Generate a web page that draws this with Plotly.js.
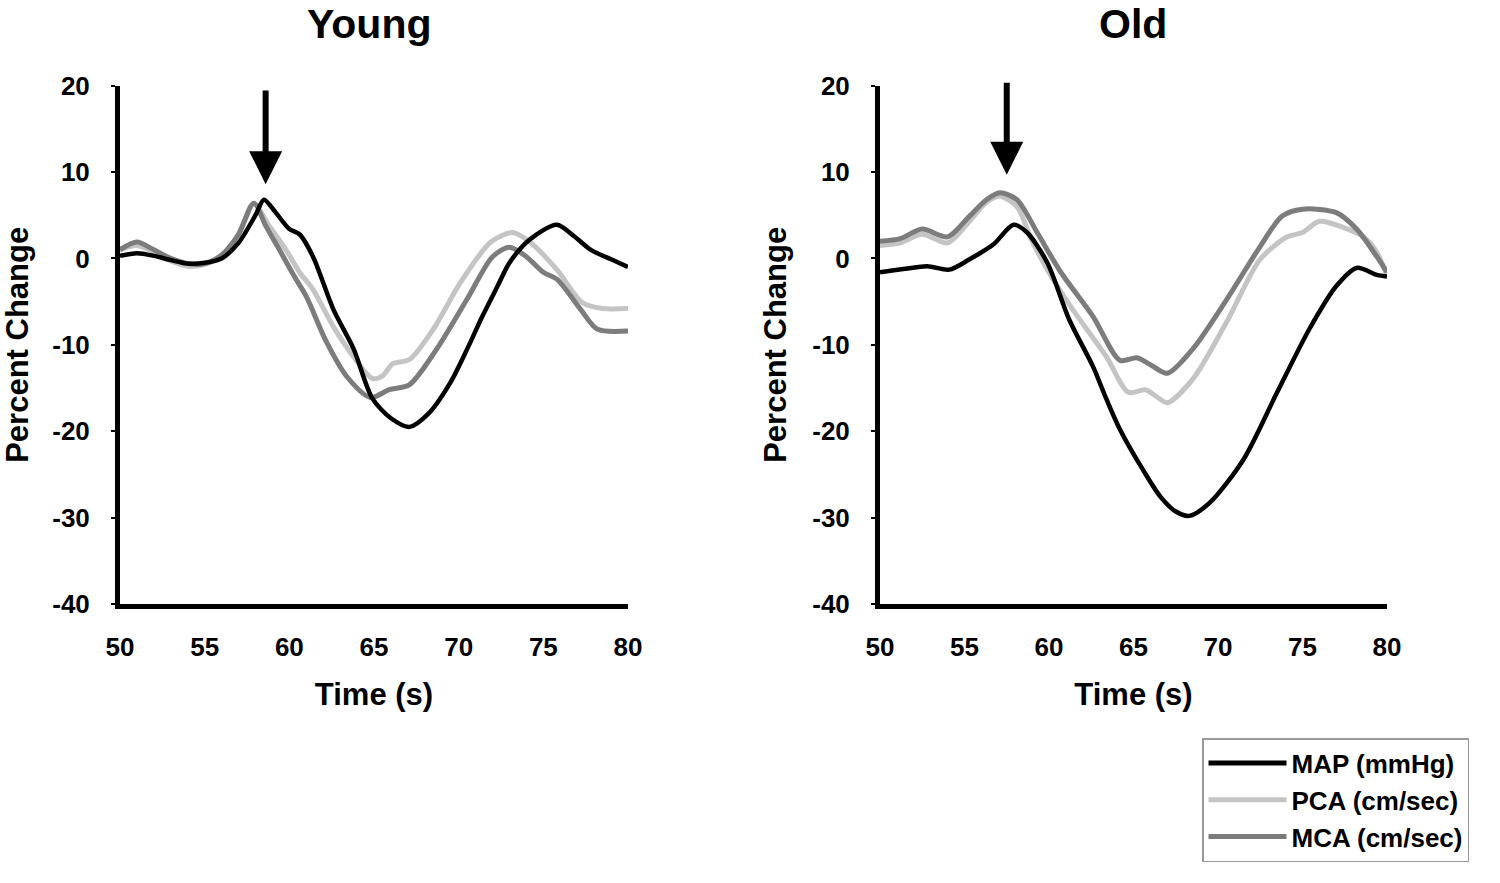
<!DOCTYPE html>
<html>
<head>
<meta charset="utf-8">
<script src="https://cdn.plot.ly/plotly-3.0.1.min.js"></script>
<style>
  html, body { margin: 0; padding: 0; background: #fff; }
  #chart { width: 1500px; height: 883px; }
</style>
</head>
<body>
<div id="chart"></div>
<script>
// Young group - percent change vs time (s)
var youngMapX = [50, 51, 52, 53, 54, 55, 56, 57, 58, 58.5, 59.2, 60, 60.6, 61.4, 62.6, 63.8, 64.9, 66, 67.1, 68.2, 69.5, 70.5, 71.4, 72.3, 73, 74.2, 75.8, 76.8, 77.8, 79, 80];
var youngMapY = [0.3, 0.6, 0.3, -0.2, -0.6, -0.5, 0, 1.8, 5, 6.8, 5.3, 3.4, 2.8, 0.2, -5.9, -10.5, -16.2, -18.5, -19.5, -18, -14.4, -10.5, -6.7, -3.2, -0.5, 2.2, 3.9, 2.6, 1.0, -0.1, -1.0];

var youngPcaX = [50, 51, 52, 53, 54, 55, 56, 57, 57.9, 58.8, 59.8, 60.6, 61.4, 62.6, 63.8, 64.9, 65.5, 66.1, 67.1, 68.5, 70.1, 71.9, 73.2, 74.2, 75.8, 77.3, 78.5, 80];
var youngPcaY = [1.0, 1.5, 0.7, -0.3, -0.9, -0.7, 0.3, 2.8, 6.3, 3.8, 1.0, -1.6, -3.6, -7.9, -11.4, -13.9, -13.6, -12.2, -11.7, -8.2, -2.8, 1.9, 3.0, 1.9, -1.3, -5.1, -5.8, -5.8];

var youngMcaX = [50, 51, 52, 53, 54, 55, 56, 57, 57.9, 58.6, 59.3, 60.3, 61.0, 62.2, 63.4, 64.8, 65.9, 67.1, 68.7, 70.5, 72.0, 73.0, 74.0, 75.0, 75.8, 77.2, 78.2, 80];
var youngMcaY = [1.0, 1.9, 1.0, 0, -0.6, -0.6, 0.4, 2.8, 6.4, 3.8, 1.4, -2.1, -4.4, -9.7, -13.7, -16.1, -15.2, -14.6, -10.5, -4.7, 0.2, 1.3, 0.2, -1.6, -2.4, -5.9, -8.2, -8.4];

// Old group
var oldMapX = [50, 51.5, 52.8, 54.1, 55.3, 56.7, 57.9, 58.7, 59.9, 61.2, 62.6, 63.4, 64.2, 65.6, 66.6, 67.5, 68.3, 69.5, 71.5, 73.5, 75.4, 77.0, 78.2, 79.4, 80];
var oldMapY = [-1.6, -1.2, -0.9, -1.3, -0.1, 1.6, 3.9, 3.0, -0.5, -7.1, -12.5, -16.3, -19.8, -24.6, -27.6, -29.3, -29.8, -28.3, -23.3, -15.5, -8.2, -3.2, -1.1, -1.9, -2.1];

var oldPcaX = [50, 51.2, 52.5, 54, 55.3, 56.3, 57.1, 58.1, 59.0, 59.9, 61.4, 63.4, 64.7, 65.7, 66.3, 67.0, 68.5, 70.5, 72.5, 74.1, 75.0, 76.0, 77.4, 78.6, 79.4, 80];
var oldPcaY = [1.5, 1.8, 2.8, 1.8, 4.3, 6.5, 7.2, 6.0, 2.0, -1.3, -5.9, -11.4, -15.5, -15.2, -15.9, -16.7, -14, -7.4, -0.1, 2.5, 3.0, 4.3, 3.6, 2.5, 0.7, -2.1];

var oldMcaX = [50, 51.2, 52.5, 54, 55.3, 56.3, 57.1, 58.1, 59.3, 60.7, 62.6, 64.2, 65.2, 66, 67.0, 68.5, 70.5, 72.5, 73.8, 75.0, 77.0, 78.2, 79.4, 80];
var oldMcaY = [2.0, 2.3, 3.4, 2.5, 4.9, 6.8, 7.6, 6.8, 3.0, -1.6, -6.7, -11.8, -11.5, -12.3, -13.3, -10.5, -4.8, 1.4, 4.9, 5.7, 5.3, 3.4, 0.2, -1.6];

var seriesNames = ["MAP (mmHg)", "PCA (cm/sec)", "MCA (cm/sec)"];
var seriesColors = ["#000000", "#c4c4c4", "#7c7c7c"];
var panelTitles = ["Young", "Old"];
var arrowX = [58.6, 57.5];

var xTicks = [50, 55, 60, 65, 70, 75, 80];
var yTicks = [-40, -30, -20, -10, 0, 10, 20];
var yTickText = ["-40", "-30", "-20", "-10", "0", "10", "20"];

var fnt = "Liberation Sans, Arial, sans-serif";

function line(x, y, i, xa, ya, show) {
  return {
    x: x, y: y, xaxis: xa, yaxis: ya,
    type: "scatter", mode: "lines",
    name: seriesNames[i], showlegend: show,
    line: {color: seriesColors[i], width: i == 0 ? 4.5 : 5, shape: "spline", smoothing: 0.8}
  };
}

// draw MAP last so it sits on top like the original
var data = [
  line(youngPcaX, youngPcaY, 1, "x", "y", false),
  line(youngMcaX, youngMcaY, 2, "x", "y", false),
  line(youngMapX, youngMapY, 0, "x", "y", false),
  line(oldPcaX, oldPcaY, 1, "x2", "y2", false),
  line(oldMcaX, oldMcaY, 2, "x2", "y2", false),
  line(oldMapX, oldMapY, 0, "x2", "y2", false),
  // legend entries in the original order
  {x: [null], y: [null], xaxis: "x2", yaxis: "y2", type: "scatter", mode: "lines", name: seriesNames[0], line: {color: seriesColors[0], width: 5}},
  {x: [null], y: [null], xaxis: "x2", yaxis: "y2", type: "scatter", mode: "lines", name: seriesNames[1], line: {color: seriesColors[1], width: 5}},
  {x: [null], y: [null], xaxis: "x2", yaxis: "y2", type: "scatter", mode: "lines", name: seriesNames[2], line: {color: seriesColors[2], width: 5}}
];

function xax(dom) {
  return {
    domain: dom, range: [50, 80], tickvals: xTicks,
    showgrid: false, zeroline: false, showline: true, linecolor: "#000", linewidth: 5,
    ticks: "", ticklabelstandoff: 16,
    tickfont: {family: fnt, size: 26, color: "#000", weight: "bold"},
    title: {text: "Time (s)", standoff: 24, font: {family: fnt, size: 31, color: "#000", weight: "bold"}},
    fixedrange: true
  };
}
function yax(anchor) {
  return {
    domain: [0.316, 0.903], range: [-40, 20], tickvals: yTicks, ticktext: yTickText,
    anchor: anchor,
    showgrid: false, zeroline: false, showline: true, linecolor: "#000", linewidth: 5,
    ticks: "outside", ticklen: 4, tickwidth: 2, tickcolor: "#000", ticklabelstandoff: 16,
    tickfont: {family: fnt, size: 26, color: "#000", weight: "bold"},
    title: {text: "Percent Change", standoff: 18, font: {family: fnt, size: 31, color: "#000", weight: "bold"}},
    fixedrange: true
  };
}

var annotations = [];
var titleX = [369 / 1500, 1133 / 1500];
for (var k = 0; k < 2; k++) {
  annotations.push({
    xref: "paper", yref: "paper", x: titleX[k], y: 1 - 24 / 883,
    text: panelTitles[k], showarrow: false, xanchor: "center", yanchor: "middle",
    font: {family: fnt, size: 41, color: "#000", weight: "bold"}
  });
}
// arrows marking the stimulus
annotations.push({xref: "x", yref: "y", axref: "x", ayref: "y", x: arrowX[0], y: 8.6, ax: arrowX[0], ay: 19.6,
  showarrow: true, arrowhead: 2, arrowsize: 1.1, arrowwidth: 6, arrowcolor: "#000", text: ""});
annotations.push({xref: "x2", yref: "y2", axref: "x2", ayref: "y2", x: arrowX[1], y: 9.7, ax: arrowX[1], ay: 20.5,
  showarrow: true, arrowhead: 2, arrowsize: 1.1, arrowwidth: 6, arrowcolor: "#000", text: ""});

var layout = {
  width: 1500, height: 883,
  margin: {l: 0, r: 0, t: 0, b: 0},
  paper_bgcolor: "#fff", plot_bgcolor: "#fff",
  showlegend: true,
  xaxis: xax([120 / 1500, 628 / 1500]),
  yaxis: yax("x"),
  xaxis2: xax([880 / 1500, 1387 / 1500]),
  yaxis2: yax("x2"),
  legend: {
    x: 1202 / 1500, y: 1 - 738 / 883, xanchor: "left", yanchor: "top",
    bordercolor: "#999", borderwidth: 1.5, bgcolor: "#fff",
    itemwidth: 78, tracegroupgap: 0,
    font: {family: fnt, size: 26, color: "#000", weight: "bold"}
  },
  annotations: annotations
};

Plotly.newPlot("chart", data, layout, {displayModeBar: false, staticPlot: true});
</script>
</body>
</html>
